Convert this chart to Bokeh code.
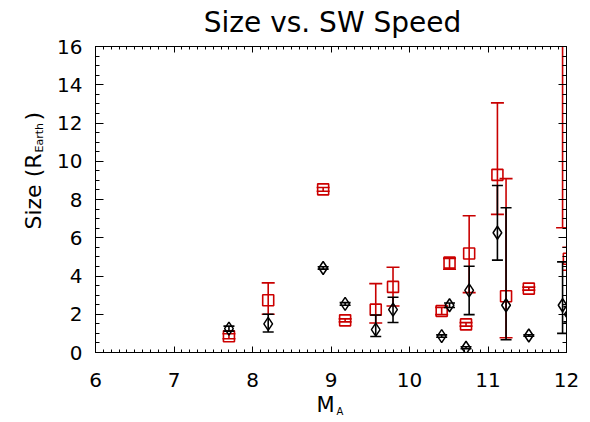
import math
from bokeh.plotting import figure
from bokeh.models import ColumnDataSource, Range1d, LinearAxis, Label, SingleIntervalTicker, CustomJSTickFormatter
from bokeh.embed import file_html
from bokeh.resources import INLINE

# ---- data ----
ma = [7.70, 8.20, 8.90, 9.18, 9.57, 9.79, 10.41, 10.51, 10.72, 10.76, 11.12, 11.23, 11.52, 11.95, 12.03]
size_black = [1.25, 1.50, 4.42, 2.54, 1.20, 2.24, 0.86, 2.47, 0.25, 3.25, 6.26, 2.47, 0.89, 2.47, 2.00]
black_lo = [1.12, 1.07, 4.36, 2.47, 0.84, 1.57, 0.80, 2.35, 0.20, 1.98, 4.83, 0.67, 0.85, 1.00, 1.60]
black_hi = [1.38, 2.00, 4.48, 2.61, 1.96, 2.89, 0.92, 2.59, 0.30, 4.51, 8.73, 7.57, 0.93, 4.74, 2.40]
size_red = [0.85, 2.73, 8.53, 1.68, 2.24, 3.43, 2.17, 4.70, 1.47, 5.18, 9.29, 2.94, 3.34, 17.50, 4.90]
red_lo = [0.72, 2.00, 8.43, 1.60, 1.54, 2.43, 1.98, 4.36, 1.38, 3.13, 7.22, 0.77, 3.26, 6.52, 4.30]
red_hi = [0.98, 3.64, 8.63, 1.76, 3.60, 4.46, 2.36, 4.92, 1.56, 7.15, 13.05, 9.09, 3.42, 28.0, 5.50]

x_limits = (6, 12)
y_limits = (0, 16)
title_text = "Size vs. SW Speed"

FONT = "DejaVu Sans"
RED = "#cc0000"
RED_BAR = "#c80000"

W, H = 590, 422
FL, FT, FW, FH = 95, 46, 471, 306

p = figure(width=W, height=H, output_backend="svg", toolbar_location=None,
           x_range=Range1d(*x_limits), y_range=Range1d(*y_limits),
           x_axis_location=None, y_axis_location=None,
           min_border_left=FL, min_border_top=FT,
           min_border_right=W - FL - FW, min_border_bottom=H - FT - FH)
p.grid.visible = False
p.outline_line_color = "black"
p.outline_line_width = 1
p.background_fill_color = "white"
p.border_fill_color = "white"

blank = CustomJSTickFormatter(code="return ''")

def style_axis(ax, tick_major, tick_minor, labels):
    ax.axis_line_color = "black"
    ax.axis_line_width = 1
    ax.major_tick_line_color = "black"
    ax.minor_tick_line_color = "black"
    ax.major_tick_in = tick_major
    ax.major_tick_out = 0
    ax.minor_tick_in = tick_minor
    ax.minor_tick_out = 0
    ax.major_label_text_font = FONT
    ax.major_label_text_font_size = "20px"
    ax.major_label_text_color = "black"
    if not labels:
        ax.formatter = blank
        ax.major_label_text_font_size = "0px"
        ax.major_label_standoff = 0

xb = LinearAxis(ticker=SingleIntervalTicker(interval=1, num_minor_ticks=10))
style_axis(xb, 6, 3, True)
xb.major_label_standoff = 20
xt = LinearAxis(ticker=SingleIntervalTicker(interval=1, num_minor_ticks=10))
style_axis(xt, 6, 3, False)
yl = LinearAxis(ticker=SingleIntervalTicker(interval=2, num_minor_ticks=4))
style_axis(yl, 8, 4, True)
yl.major_label_standoff = 13
yr = LinearAxis(ticker=SingleIntervalTicker(interval=2, num_minor_ticks=4))
style_axis(yr, 8, 4, False)
p.add_layout(xb, "below")
p.add_layout(xt, "above")
p.add_layout(yl, "left")
p.add_layout(yr, "right")

src = ColumnDataSource(dict(x=ma, yb=size_black, blo=black_lo, bhi=black_hi,
                            yr=size_red, rlo=red_lo, rhi=red_hi))

# red series (error bars + open squares)
p.segment(x0="x", y0="rlo", x1="x", y1="rhi", source=src, line_color=RED_BAR, line_width=1.6)
p.scatter(x="x", y="rlo", source=src, marker="dash", size=13, line_color=RED_BAR, line_width=1.6)
p.scatter(x="x", y="rhi", source=src, marker="dash", size=13, line_color=RED_BAR, line_width=1.6)
p.scatter(x="x", y="yr", source=src, marker="square", size=11, fill_color=None,
          line_color=RED, line_width=1.6)

# black series (error bars + open diamonds)
p.segment(x0="x", y0="blo", x1="x", y1="bhi", source=src, line_color="black", line_width=1.6)
p.scatter(x="x", y="blo", source=src, marker="dash", size=11, line_color="black", line_width=1.6)
p.scatter(x="x", y="bhi", source=src, marker="dash", size=11, line_color="black", line_width=1.6)
p.scatter(x="x", y="yb", source=src, marker="diamond", size=13, fill_color=None,
          line_color="black", line_width=1.5)

# helpers to place texts from pixel positions via the data scales
def dx(px):
    return x_limits[0] + (px - FL) * (x_limits[1] - x_limits[0]) / FW

def dy(py):
    return y_limits[0] + ((FT + FH) - py) * (y_limits[1] - y_limits[0]) / FH

def lab(side, **kw):
    kw.setdefault("text_font", FONT)
    kw.setdefault("text_color", "black")
    kw.setdefault("text_baseline", "middle")
    p.add_layout(Label(**kw), side)

# title
lab("above", x=dx(332), y=dy(22), text=title_text, text_align="center", text_font_size="28px")

# x axis label  M_A
lab("below", x=dx(334), y=dy(404), text="M", text_align="right", text_font_size="21px")
lab("above", x=dx(336), y=dy(411), text="A", text_align="left", text_font_size="10px")

# y axis label  Size (R_Earth)
ang = math.pi / 2
lab("left", x=dx(33), y=dy(153), text="Size (R", text_align="right", angle=ang, text_font_size="22px")
lab("right", x=dx(39), y=dy(152), text="Earth", text_align="left", angle=ang, text_font_size="11px")
lab("left", x=dx(33), y=dy(120), text=")", text_align="left", angle=ang, text_font_size="22px")

open("out.html", "w").write(file_html(p, INLINE))
